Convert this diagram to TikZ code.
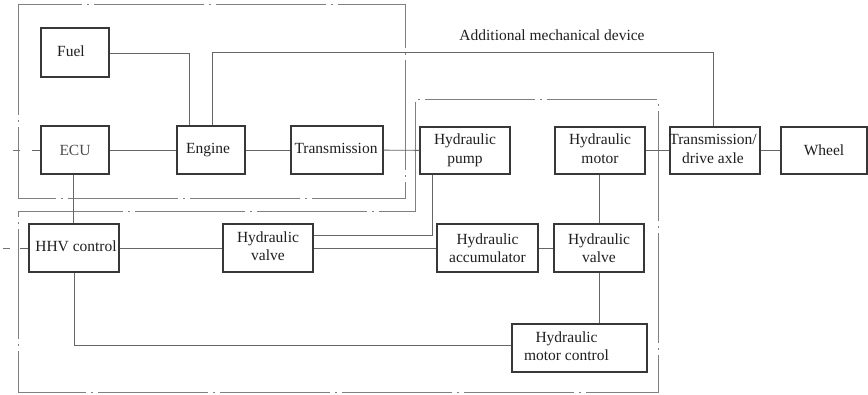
\documentclass[tikz,border=0pt]{standalone}
\usepackage{fontspec}
\setmainfont{Liberation Serif}
% block text, nudged by (#1 right, #2 up) inside its box
\newcommand{\offtext}[3]{\hspace*{#1}\raisebox{#2}{\begin{tabular}{@{}c@{}}#3\end{tabular}}\hspace*{-#1}}
\begin{document}
\begin{tikzpicture}[x=1pt,y=-1pt,
  blk/.style={draw=black!78, line width=1.3pt, fill=white, inner sep=0pt,
    align=center, text=black!88, font=\fontsize{15.5}{18.5}\selectfont},
  conn/.style={draw=black!60, line width=0.9pt},
  zone/.style={draw=black!50, line width=1pt,
    dash pattern=on 110pt off 5pt on 2pt off 5pt},
  lbl/.style={text=black!88, font=\fontsize{15.5}{18.5}\selectfont}]
\useasboundingbox (0,0) rectangle (868,395);

% subsystem boundaries
\draw[zone] (18,5) rectangle (405,199);
\draw[zone] (415,212) -- (415,100) -- (658,100) -- (658,393) -- (18,393) -- (18,212) -- cycle;

% blocks
\node[blk, minimum width=68pt, minimum height=49pt] (fuel) at (75,52.5) {\offtext{-4pt}{3pt}{Fuel}};
\node[blk, minimum width=68pt, minimum height=48pt, text=black!70] (ecu) at (75,150) {ECU};
\node[blk, minimum width=68pt, minimum height=48pt] (engine) at (211,150) {\offtext{-3pt}{3pt}{Engine}};
\node[blk, minimum width=92pt, minimum height=48pt] (trans) at (337,150) {\offtext{-1pt}{3pt}{Transmission}};
\node[blk, minimum width=90pt, minimum height=47pt] (pump) at (465,150.5) {Hydraulic\\pump};
\node[blk, minimum width=90pt, minimum height=47pt] (motor) at (600,150.5) {\offtext{0pt}{3.5pt}{Hydraulic\\motor}};
\node[blk, minimum width=90pt, minimum height=47pt] (axle) at (715,150.5) {\offtext{-2pt}{3pt}{Transmission/\\drive axle}};
\node[blk, minimum width=86pt, minimum height=47pt] (wheel) at (824,150.5) {Wheel};
\node[blk, minimum width=90pt, minimum height=48pt] (hhv) at (74,248) {\offtext{2pt}{0pt}{HHV control}};
\node[blk, minimum width=90pt, minimum height=48pt] (valveA) at (268,248) {\offtext{0pt}{4pt}{Hydraulic\\valve}};
\node[blk, minimum width=101pt, minimum height=48pt] (accum) at (487.5,248) {Hydraulic\\accumulator};
\node[blk, minimum width=90pt, minimum height=48pt] (valveB) at (599,248) {Hydraulic\\valve};
\node[blk, minimum width=135pt, minimum height=48pt] (mctrl) at (579.5,348) {\offtext{-13pt}{-2pt}{Hydraulic\\motor control}};

\node[lbl] (addlbl) at (552,35) {Additional mechanical device};

% connectors
\draw[conn] (fuel.east |- 0,53) -| (189,0 |- engine.north);
\draw[conn] (212,0 |- engine.north) |- (713,52) -- (713,0 |- axle.north);
\draw[conn] (ecu) -- (engine);
\draw[conn] (engine) -- (trans);
\draw[conn] (trans) -- (pump);
\draw[conn] (motor) -- (axle);
\draw[conn] (axle) -- (wheel);
\draw[conn] (73,0 |- ecu.south) -- (73,0 |- hhv.north);
\draw[conn] (hhv) -- (valveA);
\draw[conn] (valveA) -- (accum);
\draw[conn] (accum) -- (valveB);
\draw[conn] (432,0 |- pump.south) |- (valveA.east |- 0,235);
\draw[conn] (599,0 |- motor.south) -- (valveB.north);
\draw[conn] (valveB.south) -- (599,0 |- mctrl.north);
\draw[conn] (74,0 |- hhv.south) |- (mctrl.west |- 0,345);

% external inputs, broken lines entering from the left
\coordinate (ecuin) at (32,150);
\coordinate (hhvin) at (20,248);
\draw[conn] (ecu.west) -- (ecuin);
\draw[conn, black!55] (13,150) -- (20,150);
\draw[conn] (hhv.west) -- (hhvin);
\draw[conn, black!55] (3,248) -- (10,248);
\end{tikzpicture}
\end{document}
